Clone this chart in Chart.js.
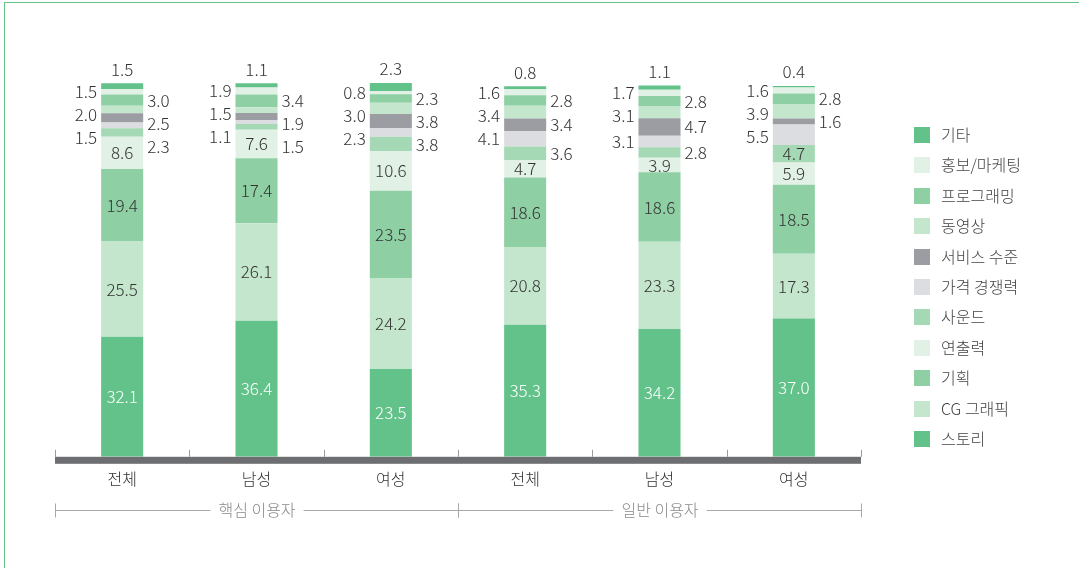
<!DOCTYPE html>
<html>
<head>
<meta charset="utf-8">
<script src="https://cdn.jsdelivr.net/npm/chart.js@4.4.0/dist/chart.umd.min.js"></script>
<style>
    body { margin: 0; background: #fff; }
    #wrap { position: relative; width: 1079px; height: 568px; }
    #frame { position: absolute; left: 4px; top: 2px; right: 0; bottom: 0;
             border-left: 1px solid #63c28a; border-top: 1px solid #63c28a; pointer-events: none; }
    canvas { position: absolute; left: 0; top: 0; }
</style>
</head>
<body>
<div id="wrap">
    <canvas id="chart" width="1079" height="568"></canvas>
    <div id="frame"></div>
</div>
<script>
const categories = ['전체', '남성', '여성', '전체', '남성', '여성'];
const groups = ['핵심 이용자', '일반 이용자'];

// values per series (bottom to top of stack)
const story       = [32.1, 36.4, 23.5, 35.3, 34.2, 37.0];
const cgGraphic   = [25.5, 26.1, 24.2, 20.8, 23.3, 17.3];
const planning    = [19.4, 17.4, 23.5, 18.6, 18.6, 18.5];
const directing   = [8.6, 7.6, 10.6, 4.7, 3.9, 5.9];
const sound       = [2.3, 1.5, 3.8, 3.6, 2.8, 4.7];
const price       = [1.5, 1.1, 2.3, 4.1, 3.1, 5.5];
const service     = [2.5, 1.9, 3.8, 3.4, 4.7, 1.6];
const video       = [2.0, 1.5, 3.0, 3.4, 3.1, 3.9];
const programming = [3.0, 3.4, 2.3, 2.8, 2.8, 2.8];
const promotion   = [1.5, 1.9, 0.8, 1.6, 1.7, 1.6];
const others      = [1.5, 1.1, 2.3, 0.8, 1.1, 0.4];

const FONT = '"Noto Sans CJK KR", "Noto Sans", sans-serif';

const datasets = [
    { label: '스토리', data: story, backgroundColor: '#63c28a' },
    { label: 'CG 그래픽', data: cgGraphic, backgroundColor: '#c4e6cd' },
    { label: '기획', data: planning, backgroundColor: '#8ecfa4' },
    { label: '연출력', data: directing, backgroundColor: '#e1f1e5' },
    { label: '사운드', data: sound, backgroundColor: '#a5d9b5' },
    { label: '가격 경쟁력', data: price, backgroundColor: '#dcdde0' },
    { label: '서비스 수준', data: service, backgroundColor: '#9c9da2' },
    { label: '동영상', data: video, backgroundColor: '#c4e6cd' },
    { label: '프로그래밍', data: programming, backgroundColor: '#8ecfa4' },
    { label: '홍보/마케팅', data: promotion, backgroundColor: '#e1f1e5' },
    { label: '기타', data: others, backgroundColor: '#63c28a' }
];

// labels, axis line, group brackets and legend
const decorPlugin = {
    id: 'decor',
    afterDatasetsDraw(chart) {
        const ctx = chart.ctx;
        const area = chart.chartArea;
        const n = categories.length;
        const step = (area.right - area.left) / n;

        ctx.save();
        // axis bar
        ctx.fillStyle = '#6d6e71';
        ctx.fillRect(area.left, area.bottom, area.right - area.left, 7);
        // small tick marks
        ctx.strokeStyle = '#9a9a9a';
        ctx.lineWidth = 1;
        for (let i = 0; i <= n; i++) {
            const x = Math.round(area.left + i * step) + 0.5;
            ctx.beginPath();
            ctx.moveTo(x, area.bottom - 7);
            ctx.lineTo(x, area.bottom);
            ctx.stroke();
        }

        // group brackets
        ctx.font = '300 16px ' + FONT;
        ctx.textAlign = 'center';
        ctx.textBaseline = 'middle';
        const gy = 510.5;
        groups.forEach((g, gi) => {
            const x0 = Math.round(area.left + gi * 3 * step) + 0.5;
            const x1 = Math.round(area.left + (gi + 1) * 3 * step) + 0.5;
            const mid = (x0 + x1) / 2;
            const tw = ctx.measureText(g).width / 2 + 8;
            ctx.strokeStyle = '#a8a8a8';
            ctx.beginPath();
            ctx.moveTo(x0, gy); ctx.lineTo(mid - tw, gy);
            ctx.moveTo(mid + tw, gy); ctx.lineTo(x1, gy);
            ctx.moveTo(x0, gy - 7); ctx.lineTo(x0, gy + 7);
            ctx.moveTo(x1, gy - 7); ctx.lineTo(x1, gy + 7);
            ctx.stroke();
            ctx.fillStyle = '#8a8a8a';
            ctx.fillText(g, mid, gy - 1);
        });

        // value labels
        ctx.font = '300 17px ' + FONT;
        const top = chart.data.datasets.length - 1;
        for (let i = 0; i < n; i++) {
            let side = 0;
            let lastY = [-1e9, -1e9];
            for (let d = top; d >= 0; d--) {
                const el = chart.getDatasetMeta(d).data[i];
                const v = chart.data.datasets[d].data[i];
                const txt = v.toFixed(1);
                const half = el.width / 2;
                const cy = (el.y + el.base) / 2;
                if (d === top) {
                    ctx.fillStyle = '#333';
                    ctx.textAlign = 'center';
                    ctx.fillText(txt, el.x, el.y - 14);
                } else if (d <= 3 || (d === 4 && v >= 4.5)) {
                    ctx.fillStyle = d === 0 ? '#ffffff' : '#333';
                    ctx.textAlign = 'center';
                    ctx.fillText(txt, el.x, cy);
                } else {
                    const y = Math.max(cy, lastY[side] + 23);
                    lastY[side] = y;
                    ctx.fillStyle = '#333';
                    if (side === 0) {
                        ctx.textAlign = 'right';
                        ctx.fillText(txt, el.x - half - 4, y);
                    } else {
                        ctx.textAlign = 'left';
                        ctx.fillText(txt, el.x + half + 4, y);
                    }
                    side = 1 - side;
                }
            }
        }

        // legend
        ctx.font = '300 16px ' + FONT;
        ctx.textAlign = 'left';
        for (let d = top; d >= 0; d--) {
            const row = top - d;
            const y = 135 + row * 30.4;
            ctx.fillStyle = chart.data.datasets[d].backgroundColor;
            ctx.fillRect(914, Math.round(y - 8), 16, 16);
            ctx.fillStyle = '#444';
            ctx.fillText(chart.data.datasets[d].label, 941, y);
        }
        ctx.restore();
    }
};

new Chart(document.getElementById('chart'), {
    type: 'bar',
    data: { labels: categories, datasets: datasets },
    options: {
        responsive: false,
        animation: false,
        devicePixelRatio: 1,
        datasets: { bar: { categoryPercentage: 1, barPercentage: 0.313, borderWidth: 0 } },
        layout: { padding: { top: 83, left: 55, right: 218, bottom: 66 } },
        plugins: { legend: { display: false }, tooltip: { enabled: false } },
        scales: {
            x: {
                stacked: true,
                grid: { display: false, drawTicks: false },
                border: { display: false },
                ticks: { color: '#333', padding: 13, font: { size: 16, family: FONT, weight: 300 } }
            },
            y: { stacked: true, display: false, min: 0, max: 100 }
        }
    },
    plugins: [decorPlugin]
});
</script>
</body>
</html>
